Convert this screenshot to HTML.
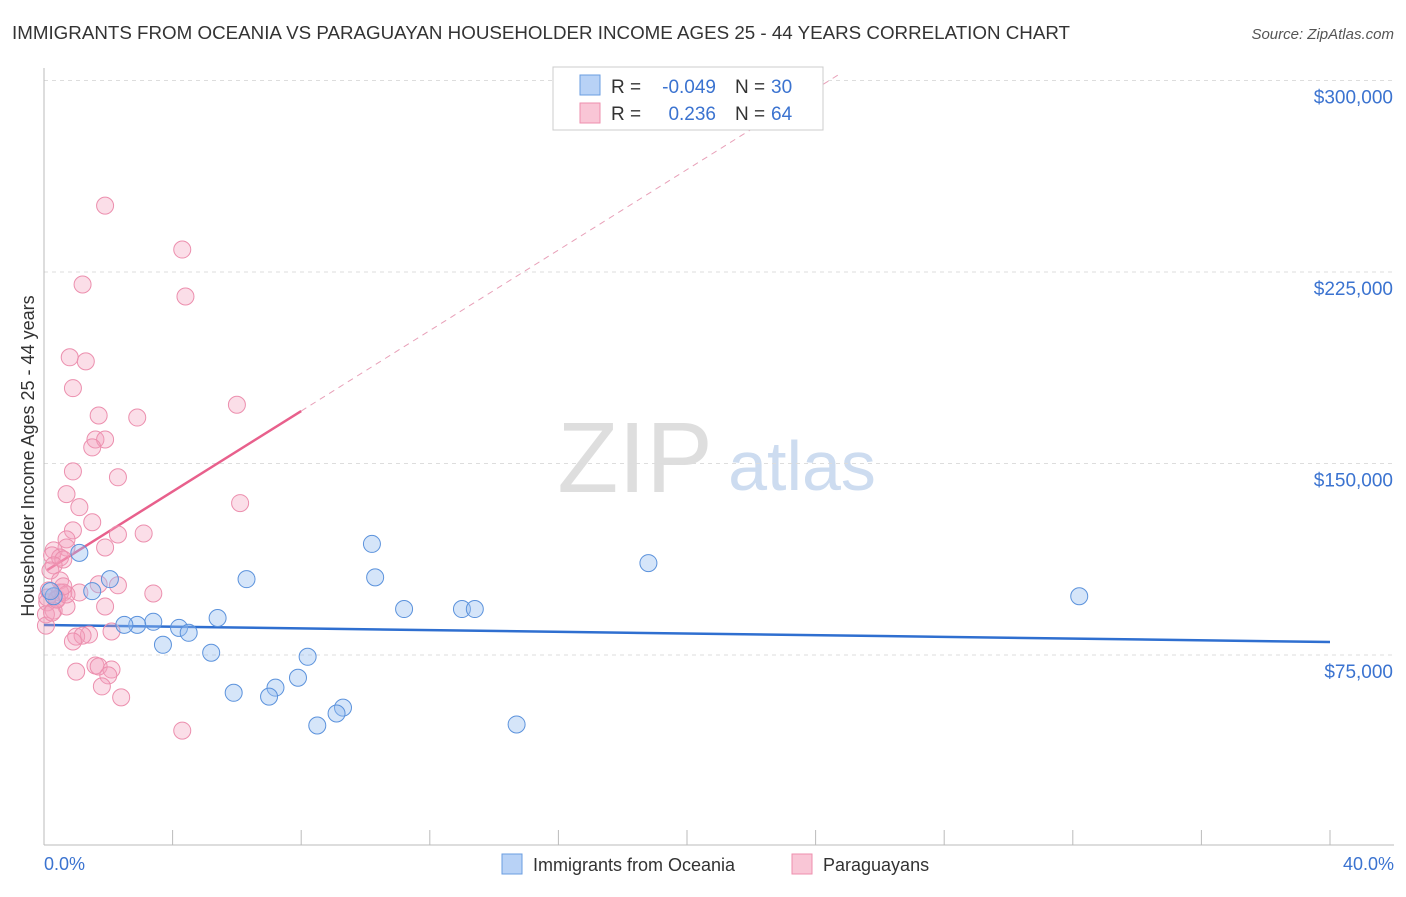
<!DOCTYPE html>
<html><head><meta charset="utf-8"><style>
body{margin:0;background:#fff;font-family:"Liberation Sans",sans-serif;}
svg text{font-family:"Liberation Sans",sans-serif;}
</style></head><body>
<svg id="chart" width="1406" height="892">
<text x="12" y="39" font-size="18" fill="#333" textLength="1058" lengthAdjust="spacingAndGlyphs">IMMIGRANTS FROM OCEANIA VS PARAGUAYAN HOUSEHOLDER INCOME AGES 25 - 44 YEARS CORRELATION CHART</text>
<text x="1394" y="39" font-size="15" fill="#555" font-style="italic" text-anchor="end">Source: ZipAtlas.com</text>
<text x="635" y="492" font-size="100" fill="#dedede" font-family="Liberation Serif" text-anchor="middle">ZIP</text>
<text x="802" y="490" font-size="70" fill="#cddcf0" text-anchor="middle">atlas</text>
<g id="grid"></g><g id="axes"></g><g id="trend"></g><g id="pts"></g>
<text transform="translate(34,456) rotate(-90)" font-size="18" fill="#333" text-anchor="middle">Householder Income Ages 25 - 44 years</text>
<text x="44" y="870" font-size="18" fill="#3b73d0">0.0%</text>
<text x="1394" y="870" font-size="18" fill="#3b73d0" text-anchor="end">40.0%</text>
<g>
<rect x="553" y="67" width="270" height="63" fill="#fff" stroke="#ccc"/>
<rect x="580" y="75" width="20" height="20" fill="#b8d2f6" stroke="#6a9de0"/>
<rect x="580" y="103" width="20" height="20" fill="#f9c6d6" stroke="#ee8fae"/>
<text x="611" y="93" font-size="19" fill="#333">R =</text>
<text x="716" y="93" font-size="19" fill="#3b73d0" text-anchor="end">-0.049</text>
<text x="735" y="93" font-size="19" fill="#333">N =</text>
<text x="771" y="93" font-size="19" fill="#3b73d0">30</text>
<text x="611" y="120" font-size="19" fill="#333">R =</text>
<text x="716" y="120" font-size="19" fill="#3b73d0" text-anchor="end">0.236</text>
<text x="735" y="120" font-size="19" fill="#333">N =</text>
<text x="771" y="120" font-size="19" fill="#3b73d0">64</text>
</g>
<g>
<rect x="502" y="854" width="20" height="20" fill="#b8d2f6" stroke="#6a9de0"/>
<text x="533" y="871" font-size="18" fill="#333">Immigrants from Oceania</text>
<rect x="792" y="854" width="20" height="20" fill="#f9c6d6" stroke="#ee8fae"/>
<text x="823" y="871" font-size="18" fill="#333">Paraguayans</text>
</g>
</svg>
<script>
const yTicks=[75000,150000,225000,300000];
const yTickLabels=["$75,000","$150,000","$225,000","$300,000"];
const blueX=[1.1,10.2,18.8,6.3,2.05,10.3,1.5,32.2,11.2,13.0,13.4,5.4,3.4,2.9,2.5,4.2,4.5,3.7,5.2,8.2,7.9,7.2,5.9,7.0,9.3,9.1,8.5,14.7,0.3,0.2];
const blueY=[115000,118500,111000,104700,104700,105400,100000,98000,93000,93000,93000,89500,88000,86800,86800,85600,83700,79000,75900,74300,66100,62200,60200,58700,54400,52100,47400,47800,98000,100000];
const pinkX=[1.9,4.3,1.2,4.4,0.8,1.3,0.9,6.0,1.7,2.9,1.6,1.9,1.5,0.9,2.3,0.7,6.1,1.1,1.5,0.9,3.1,2.3,0.7,0.7,1.9,0.3,0.25,0.5,0.6,0.3,0.2,0.5,1.1,0.6,2.3,3.4,0.4,0.1,0.7,1.9,0.3,0.06,2.1,1.4,1.0,1.2,0.06,0.9,1.6,1.7,2.1,1.0,2.0,1.8,2.4,4.3,0.1,0.5,0.25,0.4,0.7,0.6,1.7,0.15];
const pinkY=[251000,233800,220100,215400,191600,190000,179500,173000,168800,168000,159400,159400,156300,146900,144600,138000,134500,132900,127000,123800,122600,122200,120300,117100,117100,116000,114000,113200,112400,110100,108100,104200,99500,99500,102300,99100,97100,95600,94000,94000,92400,90900,84200,83000,82200,82600,86500,80300,70900,70500,69300,68500,67000,62700,58400,45400,97500,99500,91600,96700,98700,101900,102700,100300];
const trendBlue=[86750,80090];
const trendPink=[107500,170550];
const X=p=>44+p/40*1286;
const Y=v=>655-(v-75000)*191.5/75000;
const NS="http://www.w3.org/2000/svg";
function mk(t,a,parent){const e=document.createElementNS(NS,t);for(const k in a)e.setAttribute(k,a[k]);document.getElementById(parent).appendChild(e);return e;}
yTicks.forEach((v,i)=>{
 const g=mk('line',{x1:44,x2:1394,y1:Y(v),y2:Y(v),stroke:'#ddd','stroke-dasharray':'4,4'},'grid');
 
 
 const t=mk('text',{x:1393,y:Y(v)+23,'font-size':19,fill:'#3b73d0','text-anchor':'end'},'grid');
 t.textContent=yTickLabels[i];
 
 
});
const ax=mk('line',{x1:44,x2:44,y1:68,y2:845,stroke:'#bbb'},'axes');


const bx=mk('line',{x1:44,x2:1394,y1:845,y2:845,stroke:'#bbb'},'axes');


for(let i=0;i<=10;i++){const t=mk('line',{x1:X(i*4),x2:X(i*4),y1:830,y2:845,stroke:'#bbb'},'axes');
 
 }
const tb=mk('line',{x1:X(0),x2:X(40),y1:Y(trendBlue[0]),y2:Y(trendBlue[1]),stroke:'#2f6fd0','stroke-width':2.5},'trend');


const slope=(trendPink[1]-trendPink[0])/8;
const tp=mk('line',{x1:X(0.1),x2:X(8),y1:Y(trendPink[0]+slope*0.1),y2:Y(trendPink[1]),stroke:'#e8608c','stroke-width':2.5},'trend');


const td=mk('line',{x1:X(8),x2:X(24.8),y1:Y(trendPink[1]),y2:Y(trendPink[0]+slope*24.8),stroke:'#e8a0b8','stroke-width':1,'stroke-dasharray':'6,5'},'trend');


pinkX.forEach((x,i)=>{const c=mk('circle',{cx:X(x),cy:Y(pinkY[i]),r:8.5,fill:'rgba(244,160,188,0.35)',stroke:'#ec8fae','stroke-width':1},'pts');
 
 });
blueX.forEach((x,i)=>{const c=mk('circle',{cx:X(x),cy:Y(blueY[i]),r:8.5,fill:'rgba(150,190,240,0.4)',stroke:'#5b92dc','stroke-width':1},'pts');
 
 });
</script>
</body></html>
